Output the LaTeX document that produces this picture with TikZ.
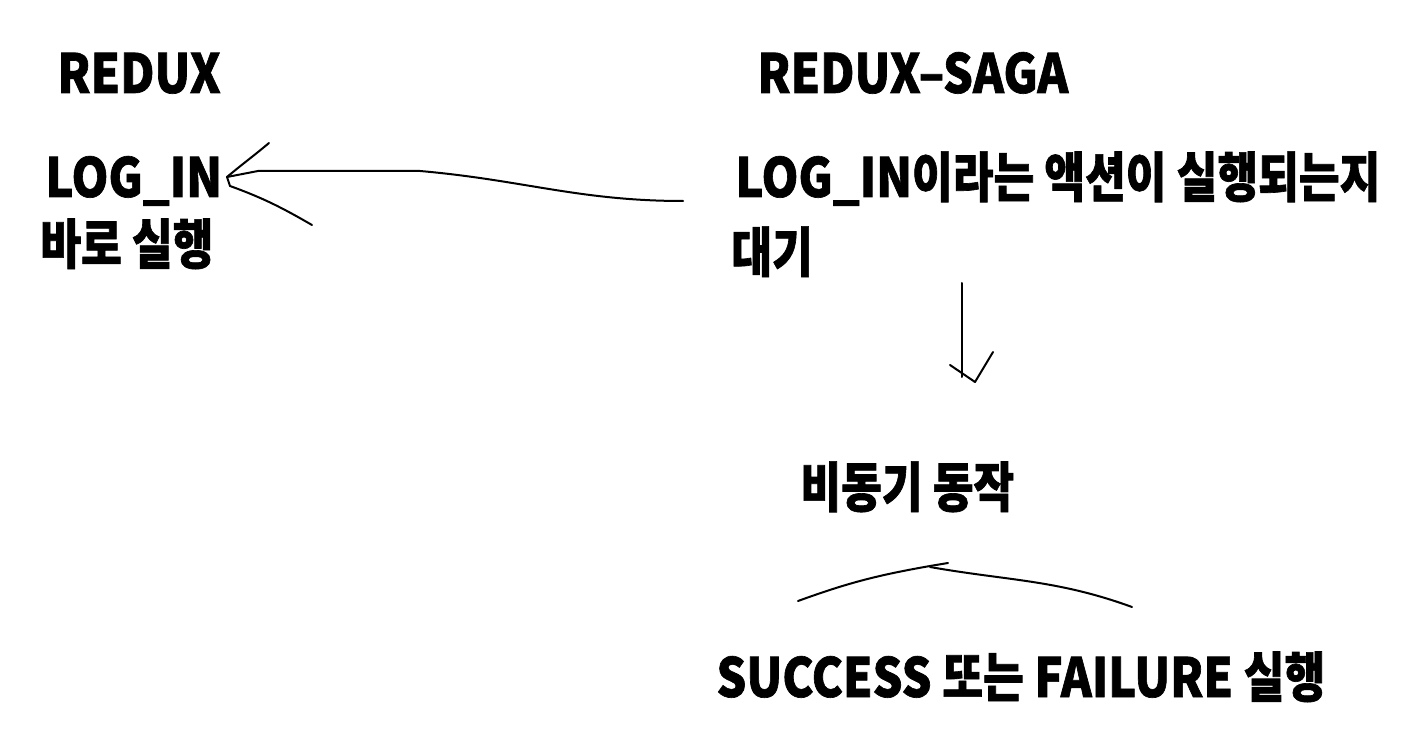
\documentclass[tikz,border=0pt]{standalone}
\usepackage{fontspec}
\setmainfont{Noto Sans CJK KR}[FakeStretch=0.87,FakeBold=1.2]
\newfontfamily\hg{Noto Sans CJK KR}[FakeStretch=0.82,FakeBold=1.2]
\usepackage{tikz}

\begin{document}
\begin{tikzpicture}[x=0.5pt,y=-0.5pt,
  lbl/.style={inner sep=0pt,anchor=base west,font=\fontsize{27}{30}\selectfont\bfseries},
  pen/.style={line width=1pt,line cap=round,line join=round}]
\useasboundingbox (0,0) rectangle (1406,742);
% left side
\node[lbl] (redux) at (57,93) {REDUX};
\node[lbl] (login) at (45,197) {LOG\_IN};
\node[lbl] (now) at (40,264) {\hg 바로 실행};
% right side
\node[lbl] (saga) at (757,93) {REDUX–SAGA};
\node[lbl] (wait) at (735,197) {LOG\_IN{\hg 이라는 액션이 실행되는지}};
\node[lbl] (waitb) at (731,272) {\hg 대기};
\node[lbl] (async) at (800,507) {\hg 비동기 동작};
\node[lbl] (result) at (716,697) {SUCCESS {\hg 또는} FAILURE {\hg 실행}};
% hand drawn arrows
\coordinate (tip) at (227,177);
\draw [pen] ([xshift=-26pt,yshift=-2pt]wait.base west) to [out=180,in=355] (420,171) to [out=180,in=0] (258,171) to (tip);
\draw [pen] (tip) to [out=40,in=220] (269,143);
\draw [pen] (tip) -- (230,186) to [out=340,in=150] (312,225);
\coordinate (down) at (962,377);
\draw [pen] (962,283) -- (down);
\draw [pen] (950,365) -- (975,382) -- (993,352);
\draw [pen] (798,601) to [out=20,in=190] (930,566) -- (948,563);
\draw [pen] (930,567) to [out=350,in=160] (1132,607);
\end{tikzpicture}
\end{document}
